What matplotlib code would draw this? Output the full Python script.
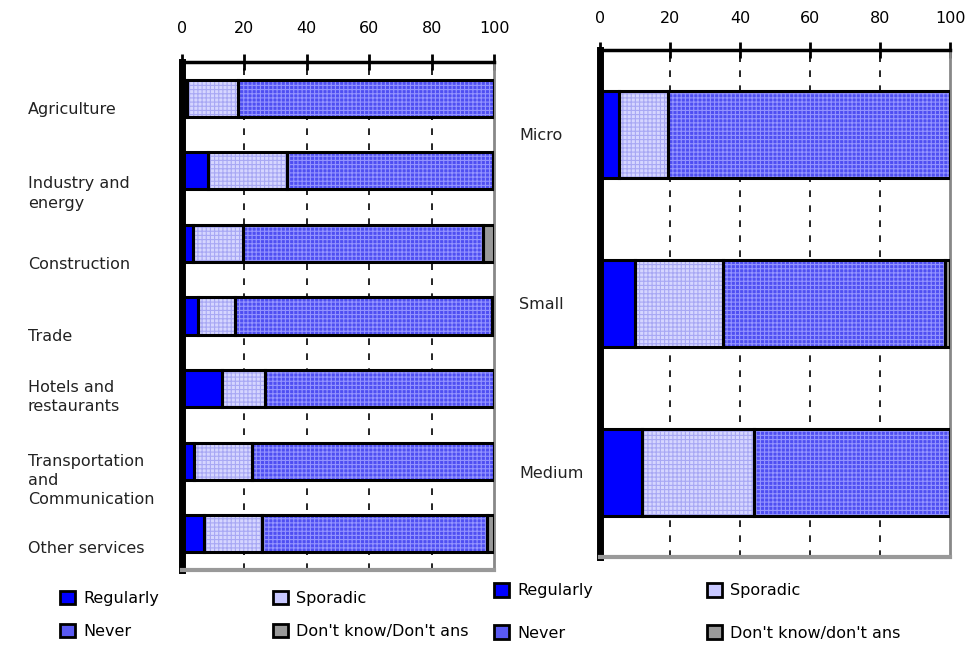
import matplotlib
matplotlib.use("Agg")
import matplotlib.pyplot as plt
import matplotlib.transforms as mtransforms
from matplotlib.patches import Patch

# --- data (percent of firms) ---
sectors = ["Agriculture", "Industry and\nenergy", "Construction", "Trade",
           "Hotels and\nrestaurants", "Transportation\nand\nCommunication", "Other services"]
sec_regularly = [1.5, 8.5, 3.4, 5.2, 12.7, 3.9, 7.0]
sec_sporadic = [16.5, 25.2, 16.0, 11.8, 13.9, 18.7, 18.8]
sec_never = [82.0, 65.9, 77.2, 82.5, 73.4, 77.4, 71.8]
sec_dk = [0.0, 0.4, 3.4, 0.5, 0.0, 0.0, 2.4]

sizes = ["Micro", "Small", "Medium"]
size_regularly = [5.4, 10.0, 12.0]
size_sporadic = [14.0, 25.0, 32.0]
size_never = [80.6, 63.6, 56.0]
size_dk = [0.0, 1.4, 0.0]

ticks = [0, 20, 40, 60, 80, 100]

# fill colour, hatch colour, hatch
styles = {
    "Regularly": ("#0000FF", None, None),
    "Sporadic": ("#D6D6FF", "#A8A8F4", "++++"),
    "Never": ("#4F4FF2", "#9494FF", "++++"),
    "DK": ("#999999", None, None),
}

plt.rcParams["font.family"] = "DejaVu Sans"
plt.rcParams["hatch.linewidth"] = 0.8


def stacked(ax, cats, series, names):
    y = list(range(len(cats)))
    left = [0.0] * len(cats)
    for vals, name in zip(series, names):
        fc, hc, hatch = styles[name]
        if hatch:
            ax.barh(y, vals, left=left, height=0.51, color=fc, edgecolor=hc,
                    hatch=hatch, linewidth=0, zorder=2)
        else:
            ax.barh(y, vals, left=left, height=0.51, color=fc, linewidth=0, zorder=2)
        ax.barh(y, vals, left=left, height=0.51, fill=False, edgecolor="black",
                linewidth=2.2, zorder=3)
        left = [a + b for a, b in zip(left, vals)]

    ax.set_xlim(0, 100)
    ax.set_ylim(len(cats) - 0.5, -0.5)
    ax.set_xticks(ticks)
    ax.xaxis.tick_top()
    ax.tick_params(axis="x", direction="inout", length=12, width=2, labelsize=11.5)
    for x in ticks[1:-1]:
        ax.axvline(x, color="black", lw=1.2, ls=(0, (4, 5)), zorder=1)
    ax.spines["left"].set_linewidth(5)
    ax.spines["top"].set_linewidth(2.5)
    ax.spines["right"].set_color("#888888")
    ax.spines["right"].set_linewidth(2)
    ax.spines["bottom"].set_color("#999999")
    ax.spines["bottom"].set_linewidth(3)
    ax.set_yticks(y)
    ax.set_yticklabels(cats, fontsize=11.5, color="#222222", ha="left",
                       linespacing=1.35)
    ax.tick_params(axis="y", length=0)


fig = plt.figure(figsize=(9.7, 6.49), dpi=100)
ax1 = fig.add_axes([0.1876, 0.1217, 0.3217, 0.7828])
ax2 = fig.add_axes([0.6186, 0.1418, 0.3608, 0.7812])

names = ["Regularly", "Sporadic", "Never", "DK"]
stacked(ax1, sectors, [sec_regularly, sec_sporadic, sec_never, sec_dk], names)
stacked(ax2, sizes, [size_regularly, size_sporadic, size_never, size_dk], names)

ax1.tick_params(axis="x", pad=13)
ax2.tick_params(axis="x", pad=11)
ax1.tick_params(axis="y", pad=111)
ax2.tick_params(axis="y", pad=58)

# labels on the left chart sit a bit below bar centres
label_dy = [10, 19, 20, 19, 5, 16, 13]
for lab, dy in zip(ax1.get_yticklabels(), label_dy):
    lab.set_transform(lab.get_transform() +
                      mtransforms.ScaledTranslation(0, -dy / 100, fig.dpi_scale_trans))


def legend_handles(dk_label):
    h = {
        "Regularly": Patch(facecolor="#0000FF", edgecolor="black", lw=2),
        "Sporadic": Patch(facecolor="#C8C8FF", edgecolor="black", lw=2),
        "Never": Patch(facecolor="#5A5AF2", edgecolor="black", lw=2),
        "DK": Patch(facecolor="#999999", edgecolor="black", lw=2),
    }
    return ([h["Regularly"], h["Never"], h["Sporadic"], h["DK"]],
            ["Regularly", "Never", "Sporadic", dk_label])


hs, ls = legend_handles("Don't know/Don't ans")
fig.legend(hs, ls, ncol=2, loc="upper left", bbox_to_anchor=(0.062, 0.090),
           frameon=False, fontsize=11.5, handlelength=0.95, handleheight=0.95,
           handletextpad=0.5, columnspacing=7.1, labelspacing=1.1,
           borderaxespad=0, borderpad=0)

hs, ls = legend_handles("Don't know/don't ans")
fig.legend(hs, ls, ncol=2, loc="upper left", bbox_to_anchor=(0.509, 0.102),
           frameon=False, fontsize=11.5, handlelength=0.95, handleheight=0.95,
           handletextpad=0.5, columnspacing=7.15, labelspacing=1.7,
           borderaxespad=0, borderpad=0)

fig.savefig("out.png", dpi=100)
